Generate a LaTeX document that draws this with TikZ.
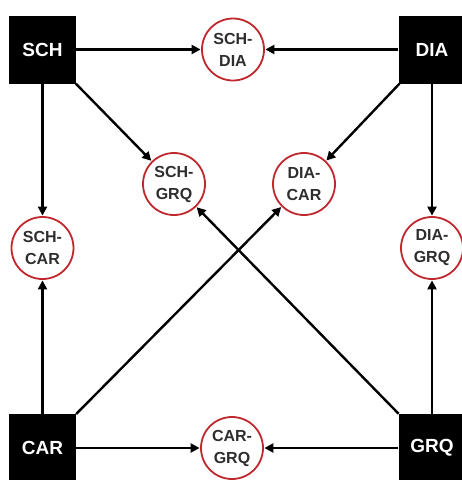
\documentclass[tikz,border=0pt]{standalone}
\usepackage{fontspec}
\setmainfont{Liberation Sans}
\usetikzlibrary{arrows.meta}
\definecolor{ringred}{HTML}{C0282D}
\definecolor{txtgray}{HTML}{2E2E2E}
\tikzset{
  keybox/.style={fill=black, draw=none, minimum width=67pt, minimum height=68pt, inner sep=0pt,
    text=white, font=\fontsize{19}{21}\selectfont\bfseries},
  pairnode/.style={circle, draw=ringred, line width=1.8pt, fill=white, minimum size=62pt, inner sep=0pt,
    text=txtgray, align=center, font=\fontsize{16}{22}\selectfont\bfseries},
  link/.style={line width=2.4pt, -{Triangle[length=9pt,width=9pt]}, shorten >=0.5pt}
}
\begin{document}
\begin{tikzpicture}[x=1pt,y=-1pt]
\useasboundingbox (0,0) rectangle (462,480);
\fill[white] (0,0) rectangle (462,480);
\node[keybox] (SCH) at (42.5,49.5) {SCH};
\node[keybox] (DIA) at (432,49.5) {DIA};
\node[keybox] (CAR) at (42.5,448) {CAR};
\node[keybox] (GRQ) at (432,448) {GRQ};
\node[pairnode] (SCHDIA) at (233,49.5) {SCH-\\DIA};
\node[pairnode] (SCHGRQ) at (174,184) {SCH-\\GRQ};
\node[pairnode] (DIACAR) at (304,184) {DIA-\\CAR};
\node[pairnode] (SCHCAR) at (42.5,248) {SCH-\\CAR};
\node[pairnode] (DIAGRQ) at (432,248) {DIA-\\GRQ};
\node[pairnode] (CARGRQ) at (232,448) {CAR-\\GRQ};
\draw[link] (SCH) -- (SCHDIA);
\draw[link] (DIA) -- (SCHDIA);
\draw[link] (SCH) -- (SCHGRQ);
\draw[link] (DIA) -- (DIACAR);
\draw[link] (SCH) -- (SCHCAR);
\draw[link] (DIA) -- (DIAGRQ);
\draw[link] (CAR) -- (SCHCAR);
\draw[link] (GRQ) -- (DIAGRQ);
\draw[link] (CAR) -- (DIACAR);
\draw[link] (GRQ) -- (SCHGRQ);
\draw[link] (CAR) -- (CARGRQ);
\draw[link] (GRQ) -- (CARGRQ);
\end{tikzpicture}
\end{document}
